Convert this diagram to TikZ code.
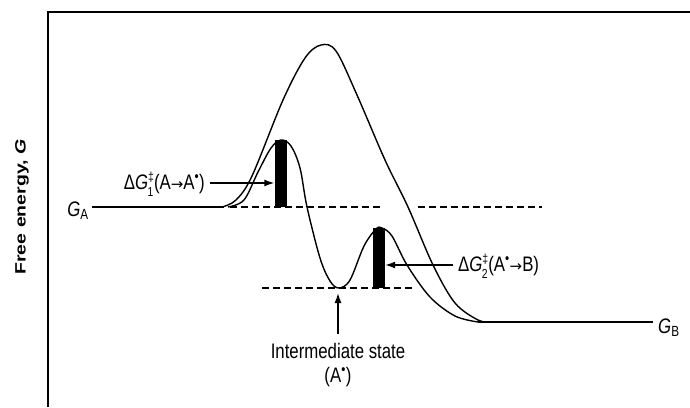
\documentclass[tikz,border=0pt]{standalone}
\usepackage{fontspec}
\setmainfont{Liberation Sans}
\newfontfamily\condfont[FakeStretch=0.8]{Liberation Sans}
\newfontfamily\widefont[FakeStretch=1.3]{Liberation Sans}
\newfontfamily\symfont{DejaVu Sans}
\newcommand{\dgl}[1]{\raisebox{8pt}{\fontsize{13}{13}\selectfont ‡}\llap{\raisebox{-7pt}{\fontsize{13}{13}\selectfont #1}\kern0.5pt}}
\newcommand{\rarr}{{\symfont\fontsize{15}{15}\selectfont →}}
\usetikzlibrary{arrows.meta}
\begin{document}
\begin{tikzpicture}[x=1pt,y=-1pt,
  curve/.style={line width=1.4pt},
  dashline/.style={line width=1.8pt, dash pattern=on 7pt off 4pt},
  barbox/.style={fill=black, draw=none, inner sep=0pt, minimum width=12pt},
  lbl/.style={inner sep=1pt, font=\condfont\fontsize{21}{23}\selectfont},
  arr/.style={line width=1.4pt, -{Latex[length=10pt,width=7pt]}}]
\useasboundingbox (0,0) rectangle (690,407);
% frame
\coordinate (fbl) at (48,407);
\coordinate (ftl) at (48,12);
\coordinate (ftr) at (690,12);
\draw[line width=1.5pt] (fbl) -- (ftl) -- (ftr);
% axis label
\node[rotate=90, font=\widefont\bfseries\fontsize{15}{17}\selectfont] (ylab) at (22,207) {Free energy, \textit{G}};
% G_A and G_B
\node[lbl, anchor=east] (GA) at (90,211) {\textit{G}\textsubscript{A}};
\node[lbl, anchor=west] (GB) at (657,328) {\textit{G}\textsubscript{B}};
\coordinate (ga1) at (92,207);
\coordinate (ga2) at (224,207);
\coordinate (gb1) at (478,322);
\coordinate (gb2) at (653,322);
\draw[curve] (ga1) -- (ga2);
% big curve
\draw[curve] plot[smooth, tension=0.55] coordinates {(222,207) (236,200) (252,176) (283,100) (305,58) (321,45) (336,51) (357,95) (385,160) (408,207) (433,265) (455,303) (478,320) (490,322)};
\draw[curve] (gb1) -- (gb2);
% small curve
\draw[curve] plot[smooth, tension=0.55] coordinates {(228,207) (244,200) (258,172) (271,148) (281,140) (291,146) (300,168) (307,207) (320,258) (330,281) (339,288) (350,280) (364,246) (376,229) (382,228) (392,236) (407,265) (430,297) (455,316) (478,322)};
% dashed levels
\coordinate (d1a) at (230,207); \coordinate (d1b) at (380,207);
\coordinate (d2a) at (418,207); \coordinate (d2b) at (542,207);
\coordinate (d3a) at (262,288); \coordinate (d3b) at (412,288);
\draw[dashline] (d1a) -- (d1b);
\draw[dashline] (d2a) -- (d2b);
\draw[dashline] (d3a) -- (d3b);
% bars
\node[barbox, minimum height=67pt] (bar1) at (280.5,173.5) {};
\node[barbox, minimum height=60pt] (bar2) at (379,258) {};
% labels and arrows
\node[lbl, anchor=east] (l1) at (206,184) {Δ\textit{G}\dgl{1}(A\rarr A\textsuperscript{•})};
\coordinate (a1s) at (210,183);
\draw[arr] (a1s) -- (bar1.west |- a1s);
\node[lbl, anchor=west] (l2) at (457,266) {Δ\textit{G}\dgl{2}(A\textsuperscript{•}\rarr B)};
\coordinate (a2s) at (453,265);
\draw[arr] (a2s) -- (bar2.east |- a2s);
% intermediate
\node[lbl, align=center] (im) at (338,365) {Intermediate state\\[1pt](A\textsuperscript{•})};
\coordinate (imtop) at (338,293);
\coordinate (ims) at (338,334);
\draw[arr] (ims) -- (imtop);
\end{tikzpicture}
\end{document}
